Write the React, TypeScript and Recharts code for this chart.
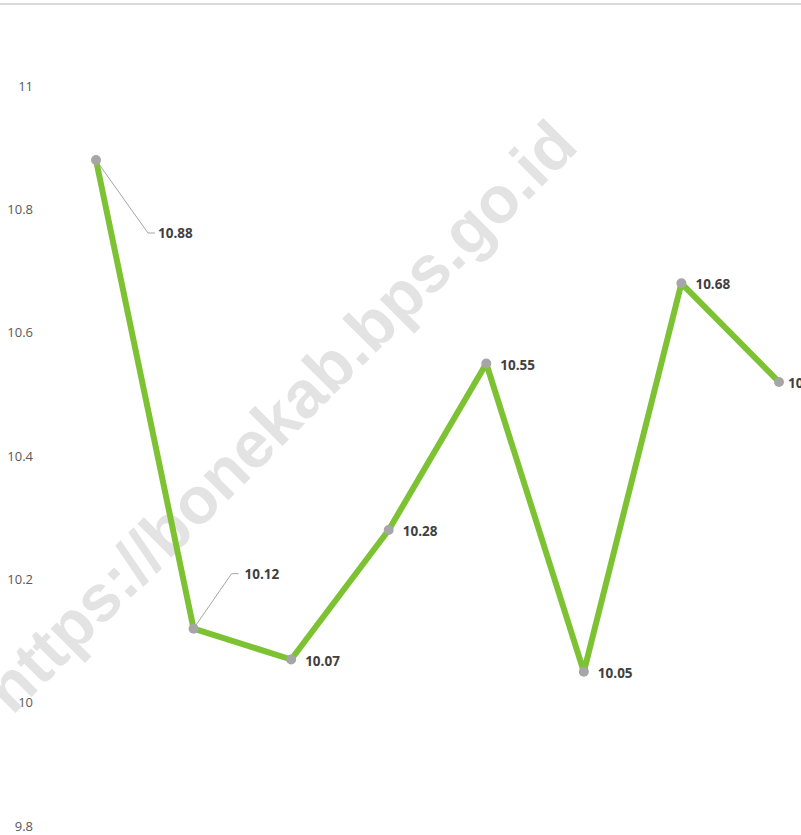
import React from "react";
import { LineChart, Line, XAxis, YAxis, LabelList } from "recharts";

const categories = ["P1", "P2", "P3", "P4", "P5", "P6", "P7", "P8"];
const values = [10.88, 10.12, 10.07, 10.28, 10.55, 10.05, 10.68, 10.52];
const yTicks = [9.8, 10, 10.2, 10.4, 10.6, 10.8, 11];

const data = categories.map((c, i) => ({ name: c, value: values[i] }));

const renderLabel = (props: any) => {
  const { x, y, value, index } = props;
  const style = { fontFamily: "Open Sans, Liberation Sans, sans-serif", fontSize: 13.5, fontWeight: 700, fill: "#404040" };
  if (index === 0) {
    const ex = x + 52;
    const ey = y + 73;
    return (
      <g>
        <polyline points={`${x},${y} ${ex},${ey} ${ex + 7},${ey}`} fill="none" stroke="#A6A6A6" strokeWidth={1} />
        <text x={ex + 10} y={ey} dominantBaseline="central" style={style}>{value}</text>
      </g>
    );
  }
  if (index === 1) {
    const ex = x + 38;
    const ey = y - 55;
    return (
      <g>
        <polyline points={`${x},${y} ${ex},${ey} ${ex + 7},${ey}`} fill="none" stroke="#A6A6A6" strokeWidth={1} />
        <text x={ex + 13} y={ey} dominantBaseline="central" style={style}>{value}</text>
      </g>
    );
  }
  const dx = index === values.length - 1 ? 9 : 14;
  return (
    <text x={x + dx} y={y + 1} dominantBaseline="central" style={style}>{value}</text>
  );
};

export default function App() {
  return (
    <div style={{ position: "absolute", left: 0, top: 0, width: 801, height: 835, background: "#fff", overflow: "hidden" }}>
      <div style={{ position: "absolute", left: 0, top: 3, width: 801, height: 2, background: "#D9D9D9" }} />
      <LineChart width={801} height={835} data={data} margin={{ top: 86, right: 0, bottom: 9, left: 0 }}>
        <XAxis dataKey="name" hide padding={{ left: 56, right: 22 }} />
        <YAxis
          domain={[9.8, 11]}
          ticks={yTicks}
          width={40}
          axisLine={false}
          tickLine={false}
          tickSize={0}
          tickMargin={7}
          interval={0}
          tick={{ fill: "#595959", fontSize: 13, fontFamily: "Open Sans, Liberation Sans, sans-serif" }}
        />
        <Line
          dataKey="value"
          stroke="#7DC232"
          strokeWidth={6}
          strokeLinejoin="round"
          dot={{ r: 5, fill: "#A6A6A6", stroke: "#A6A6A6", strokeWidth: 0 }}
          isAnimationActive={false}
        >
          <LabelList dataKey="value" content={renderLabel} />
        </Line>
        <text
          x={280}
          y={416}
          textAnchor="middle"
          dominantBaseline="central"
          transform="rotate(-45 280 416)"
          style={{ fontFamily: "Liberation Sans, Arial, sans-serif", fontWeight: 700, fontSize: 66, fill: "rgba(140,140,140,0.24)" }}
        >
          https://bonekab.bps.go.id
        </text>
      </LineChart>
    </div>
  );
}
